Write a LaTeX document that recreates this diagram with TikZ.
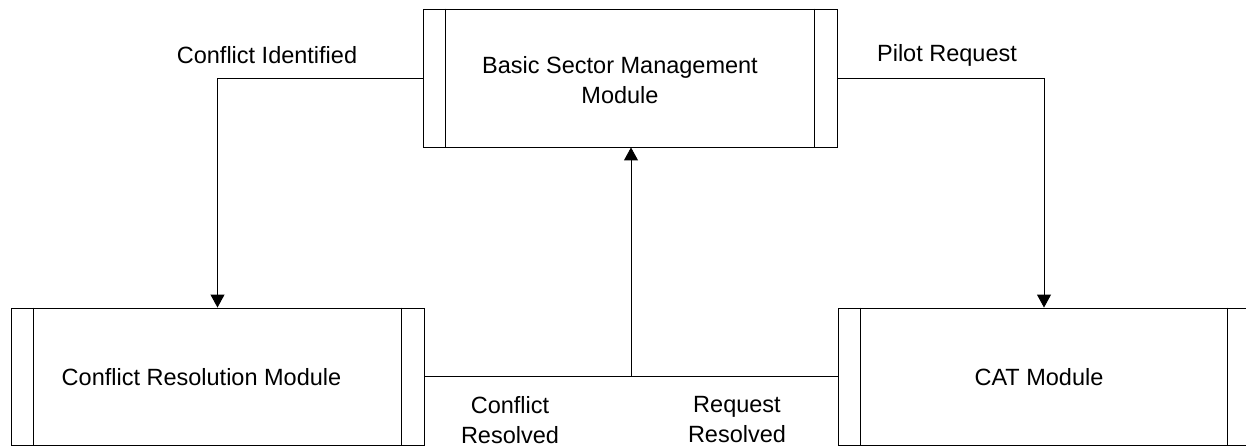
\documentclass[tikz,border=0pt]{standalone}
\usepackage{fontspec}
\setmainfont{Liberation Sans}
\usetikzlibrary{arrows.meta,calc}
\begin{document}
\begin{tikzpicture}[x=1pt,y=-1pt,
  every node/.style={font=\fontsize{23.5}{30}\selectfont},
  module/.style={draw, line width=0.9pt, rectangle, inner sep=0pt},
  conn/.style={line width=0.9pt},
  arr/.style={conn, -{Triangle[length=13pt,width=14pt]}},
  lbl/.style={align=center, inner sep=0pt}]
\useasboundingbox (0,0) rectangle (1246,446);
% modules
\node[module, minimum width=414pt, minimum height=138pt] (top) at (630,78) {};
\node[module, minimum width=413pt, minimum height=137pt] (left) at (217.5,376.5) {};
\node[module, minimum width=412pt, minimum height=137pt] (right) at (1044,376.5) {};
% inner side bars
\foreach \n in {top,left,right}{
  \draw[conn] ([xshift=23pt]\n.north west) -- ([xshift=23pt]\n.south west);
  \draw[conn] ([xshift=-23pt]\n.north east) -- ([xshift=-23pt]\n.south east);
}
% module texts
\node[lbl] (topt) at (620,80) {Basic Sector Management\\Module};
\node[lbl] (leftt) at (201.5,377) {Conflict Resolution Module};
\node[lbl] (rightt) at (1039,377) {CAT Module};
% connectors
\draw[arr] (top.west) -| (left.north);
\draw[arr] (top.east) -| (right.north);
\draw[conn] (left.east) -- (right.west);
\coordinate (mid) at ($(left.east)!0.5!(right.west)$);
\draw[arr] (mid) -- (mid |- top.south);
% labels
\node[lbl] (l1) at (267,55) {Conflict Identified};
\node[lbl] (l2) at (947,55) {Pilot Request};
\node[lbl] (l3) at (510,420) {Conflict\\Resolved};
\node[lbl] (l4) at (737,420) {Request\\Resolved};
\end{tikzpicture}
\end{document}
